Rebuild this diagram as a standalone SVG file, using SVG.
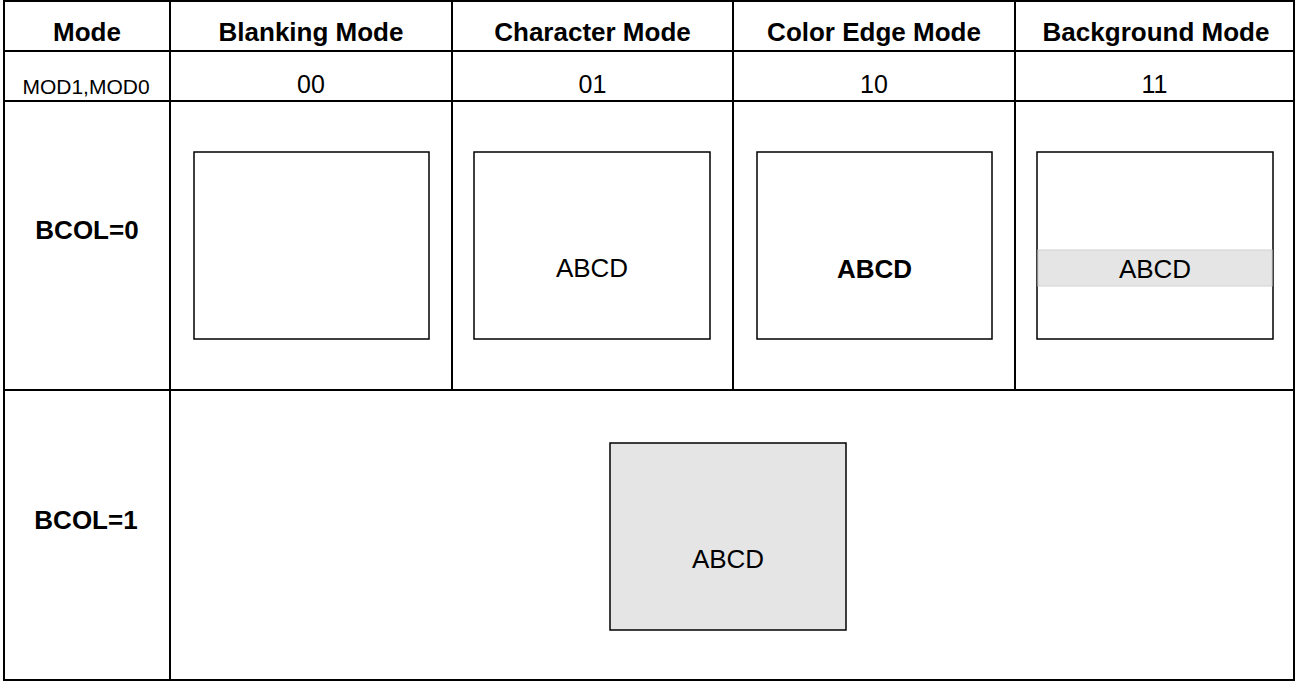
<svg xmlns="http://www.w3.org/2000/svg" width="1296" height="682" viewBox="0 0 1296 682">
<style>
.grid{stroke:#000;stroke-width:2;fill:none}
.hdr{font-family:"Liberation Sans",Arial,sans-serif;font-weight:bold;font-size:26px;text-anchor:middle;fill:#000}
.val{font-family:"Liberation Sans",Arial,sans-serif;font-size:25px;text-anchor:middle;fill:#000}
.small{font-family:"Liberation Sans",Arial,sans-serif;font-size:21px;text-anchor:middle;fill:#000}
.scr{fill:#fff;stroke:#000;stroke-width:1.5}
.scrg{fill:#e5e5e5;stroke:#000;stroke-width:1.5}
.abcd{font-family:"Liberation Sans",Arial,sans-serif;font-size:26px;text-anchor:middle;fill:#000}
.abcdb{font-family:"Liberation Sans",Arial,sans-serif;font-size:26px;font-weight:bold;text-anchor:middle;fill:#000}
</style>
<rect width="1296" height="682" fill="#fff"/>
<g id="table">
<rect class="grid" x="4" y="1" width="1290" height="679"/>
<line class="grid" x1="4" y1="51" x2="1294" y2="51"/>
<line class="grid" x1="4" y1="101" x2="1294" y2="101"/>
<line class="grid" x1="4" y1="390" x2="1294" y2="390"/>
<line class="grid" x1="170" y1="1" x2="170" y2="680"/>
<line class="grid" x1="452" y1="1" x2="452" y2="390"/>
<line class="grid" x1="733" y1="1" x2="733" y2="390"/>
<line class="grid" x1="1015" y1="1" x2="1015" y2="390"/>
</g>
<g id="headers">
<text class="hdr" x="87" y="41">Mode</text>
<text class="hdr" x="311" y="41">Blanking Mode</text>
<text class="hdr" x="592.5" y="41">Character Mode</text>
<text class="hdr" x="874" y="41">Color Edge Mode</text>
<text class="hdr" x="1156" y="41">Background Mode</text>
</g>
<g id="codes">
<text class="small" x="86" y="94">MOD1,MOD0</text>
<text class="val" x="311" y="93">00</text>
<text class="val" x="592.5" y="93">01</text>
<text class="val" x="874" y="93">10</text>
<text class="val" x="1154.5" y="93">11</text>
</g>
<g id="row-bcol0">
<text class="hdr" x="87" y="239">BCOL=0</text>
</g>
<g id="blanking">
<rect class="scr" x="194" y="152" width="235" height="187"/>
</g>
<g id="character">
<rect class="scr" x="474" y="152" width="236" height="187"/>
<text class="abcd" x="592" y="277">ABCD</text>
</g>
<g id="coloredge">
<rect class="scr" x="757" y="152" width="235" height="187"/>
<text class="abcdb" x="874.5" y="278">ABCD</text>
</g>
<g id="background">
<rect class="scr" x="1037" y="152" width="236" height="187"/>
<rect x="1038" y="250" width="234" height="36" fill="#e5e5e5" stroke="#d2d2d2" stroke-width="1"/>
<text class="abcd" x="1155" y="278">ABCD</text>
</g>
<g id="row-bcol1">
<text class="hdr" x="86" y="529">BCOL=1</text>
</g>
<g id="bcol1-screen">
<rect class="scrg" x="610" y="443" width="236" height="187"/>
<text class="abcd" x="728" y="568">ABCD</text>
</g>
<g id="connectors"/>
</svg>
